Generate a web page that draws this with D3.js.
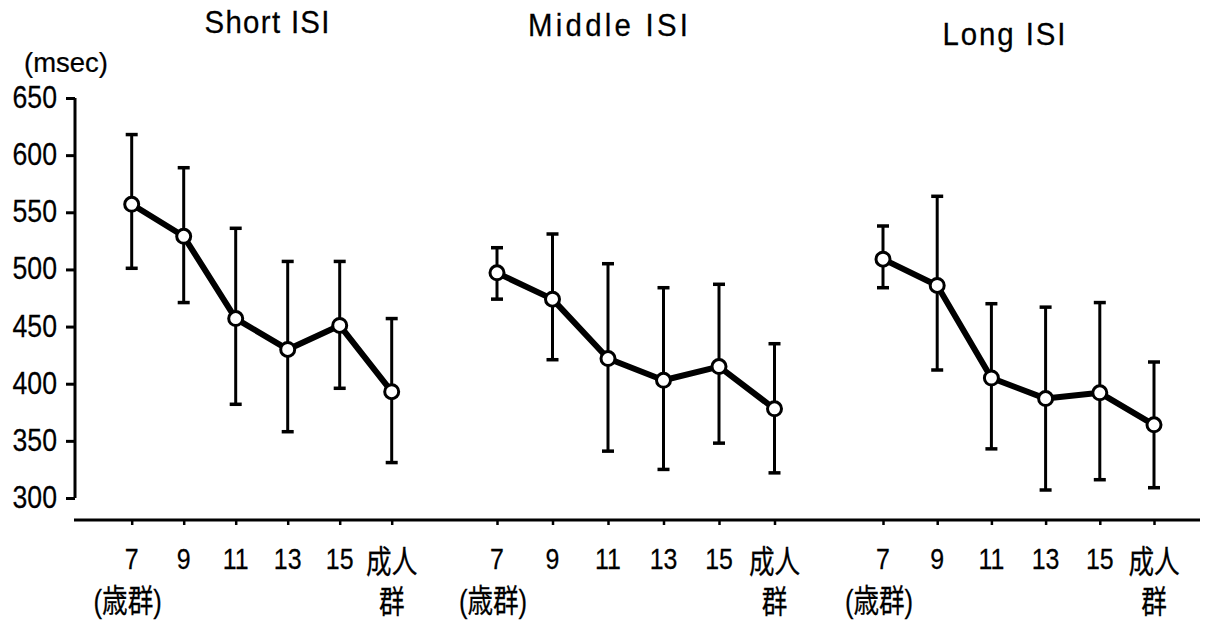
<!DOCTYPE html>
<html>
<head>
<meta charset="utf-8">
<script src="https://cdn.jsdelivr.net/npm/d3@7"></script>
<style>
  html, body { margin: 0; padding: 0; background: #fff; }
  svg { display: block; }
  text { font-family: "Liberation Sans", Arial, "Noto Sans CJK JP", sans-serif; fill: #000; stroke: #000; stroke-width: 0.25; }
</style>
</head>
<body>
<svg id="chart" width="1210" height="627"></svg>
<script>
// Reaction time (msec) by age group, for three inter-stimulus intervals
const panelTitles = ["Short ISI", "Middle ISI", "Long ISI"];
const ageGroups = ["7", "9", "11", "13", "15", "成人"];
const yTicks = [300, 350, 400, 450, 500, 550, 600, 650];

const shortMean  = [557, 529, 457, 430, 451, 393];
const shortUpper = [618, 589, 536, 507, 507, 457];
const shortLower = [501, 471, 382, 358, 396, 331];

const middleMean  = [497, 474, 422, 403, 415, 378];
const middleUpper = [519, 531, 505, 484, 487, 435];
const middleLower = [474, 421, 341, 325, 348, 322];

const longMean  = [509, 486, 405, 387, 392, 364];
const longUpper = [538, 564, 470, 467, 471, 419];
const longLower = [484, 412, 343, 307, 316, 309];

const series = [
  { title: panelTitles[0], mean: shortMean,  upper: shortUpper,  lower: shortLower,  range: [131.7, 391.7], titleX: 267,  titleY: 33, titleW: 125 },
  { title: panelTitles[1], mean: middleMean, upper: middleUpper, lower: middleLower, range: [497, 774.5],   titleX: 608,  titleY: 36, titleW: 160 },
  { title: panelTitles[2], mean: longMean,   upper: longUpper,   lower: longLower,   range: [883, 1154],    titleX: 1004, titleY: 45, titleW: 123 }
];

const svg = d3.select("#chart");
const axisX = 75, baseY = 520;
const y = d3.scaleLinear().domain([300, 650]).range([498, 98]);

// condensed text helper; optional width spreads the letters out
function label(g, x, yy, str, size, squeeze, anchor, width) {
  const t = g.append("text")
    .attr("transform", `translate(${x},${yy}) scale(${squeeze},1)`)
    .attr("text-anchor", anchor || "middle")
    .attr("font-size", size)
    .text(str);
  if (width) t.attr("textLength", width / squeeze).attr("lengthAdjust", "spacing");
  return t;
}

// y axis
const yAxis = svg.append("g").attr("transform", `translate(${axisX},0)`)
  .call(d3.axisLeft(y).tickValues(yTicks).tickSize(9).tickFormat(""));
yAxis.select(".domain").attr("d", `M-0,${y(650)}V${y(300)}`).attr("stroke", "#000").attr("stroke-width", 3);
yAxis.selectAll(".tick line").attr("stroke", "#000").attr("stroke-width", 3);
yTicks.forEach(v => label(svg, 57, y(v) + 10, String(v), 31, 0.86, "end"));
label(svg, 66, 72, "(msec)", 28, 0.98, "middle");

// baseline across all panels
svg.append("line")
  .attr("x1", axisX - 1).attr("x2", 1200)
  .attr("y1", baseY).attr("y2", baseY)
  .attr("stroke", "#000").attr("stroke-width", 3);

const line = d3.line();

series.forEach(s => {
  const x = d3.scalePoint().domain(ageGroups).range(s.range);
  const g = svg.append("g");

  // category ticks and labels
  const xa = g.append("g").attr("transform", `translate(0,${baseY})`)
    .call(d3.axisBottom(x).tickSize(5).tickFormat(""));
  xa.select(".domain").remove();
  xa.selectAll(".tick line").attr("stroke", "#000").attr("stroke-width", 2.5);

  ageGroups.forEach((a, i) => {
    if (i < 5) label(g, x(a), 569, a, 29, 0.86, "middle");
    else label(g, x(a), 573, a, 32, 0.8, "middle");
  });
  label(g, x(ageGroups[0]) - 4, 612, "(歳群)", 32, 0.8, "middle");
  label(g, x(ageGroups[5]), 613, "群", 32, 0.8, "middle");

  // title
  label(g, s.titleX - s.titleW / 2, s.titleY, s.title, 31, 0.95, "start", s.titleW);

  // error bars
  const eb = g.append("g").attr("stroke", "#000").attr("stroke-width", 3).attr("fill", "none");
  ageGroups.forEach((a, i) => {
    const cx = x(a);
    eb.append("line").attr("x1", cx).attr("x2", cx).attr("y1", y(s.upper[i])).attr("y2", y(s.lower[i]));
    eb.append("line").attr("x1", cx - 6).attr("x2", cx + 6).attr("y1", y(s.upper[i])).attr("y2", y(s.upper[i])).attr("stroke-width", 3.5);
    eb.append("line").attr("x1", cx - 6).attr("x2", cx + 6).attr("y1", y(s.lower[i])).attr("y2", y(s.lower[i])).attr("stroke-width", 3.5);
  });

  // mean line
  g.append("path")
    .attr("d", line(ageGroups.map((a, i) => [x(a), y(s.mean[i])])))
    .attr("fill", "none").attr("stroke", "#000").attr("stroke-width", 6).attr("stroke-linejoin", "round");

  // markers
  g.selectAll("circle.m").data(s.mean).join("circle")
    .attr("class", "m")
    .attr("cx", (d, i) => x(ageGroups[i]))
    .attr("cy", d => y(d))
    .attr("r", 7)
    .attr("fill", "#fff").attr("stroke", "#000").attr("stroke-width", 3);
});
</script>
</body>
</html>
